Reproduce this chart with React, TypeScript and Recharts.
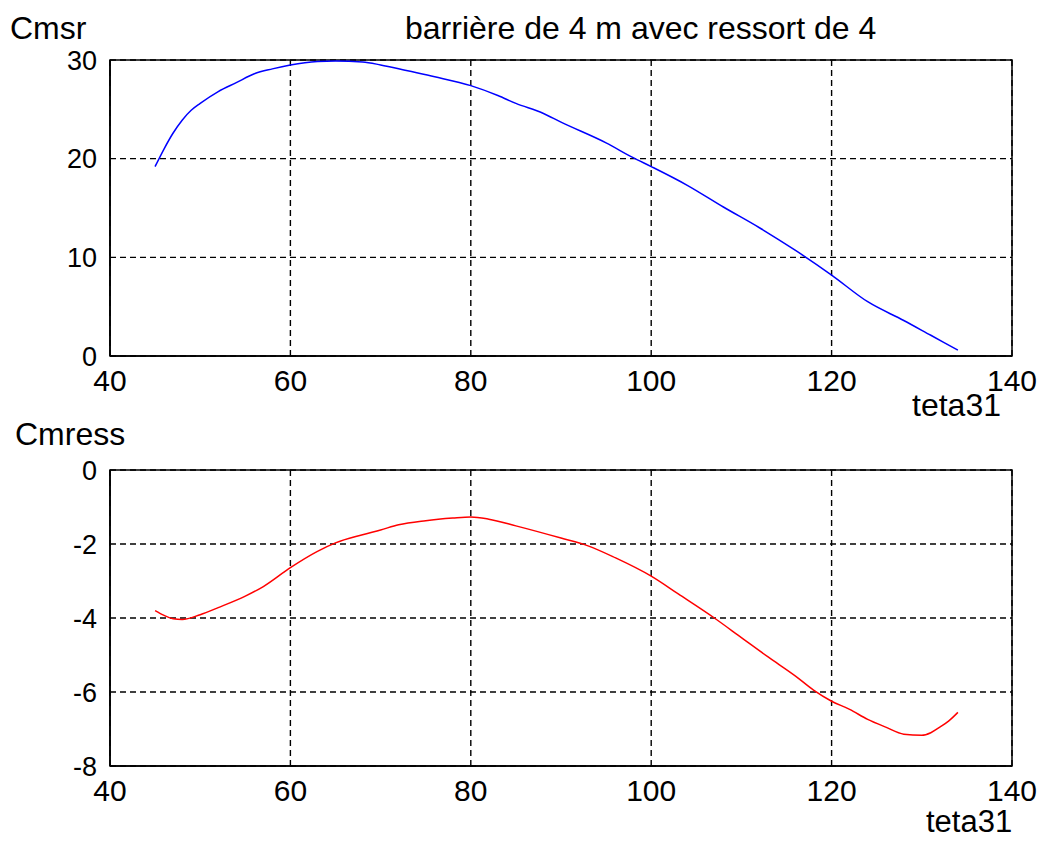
import { LineChart, Line, XAxis, YAxis, CartesianGrid, ReferenceArea } from 'recharts'

const tetaTop = [45, 46, 47, 48, 49, 50, 52, 54, 56, 58, 60, 63, 65, 68, 70, 73, 76, 80, 83, 85, 88, 90, 95, 98, 100, 104, 108, 112, 116, 120, 124, 128, 131, 134]
const cmsr = [19.2, 21.0, 22.6, 23.9, 24.9, 25.6, 26.8, 27.7, 28.6, 29.1, 29.5, 29.85, 29.9, 29.8, 29.5, 28.9, 28.3, 27.4, 26.4, 25.6, 24.6, 23.7, 21.6, 20.1, 19.2, 17.3, 15.1, 13.0, 10.7, 8.2, 5.5, 3.6, 2.1, 0.6]

const tetaBottom = [45, 46, 47, 48, 50, 52, 55, 57, 60, 63, 65, 68, 70, 72, 75, 78, 80, 82, 85, 90, 93, 96, 100, 103, 107, 110, 113, 116, 118, 120, 122, 124, 126, 128, 130, 131, 132, 133, 134]
const cmress = [-3.8, -3.93, -4.02, -4.04, -3.91, -3.72, -3.41, -3.15, -2.64, -2.2, -1.97, -1.75, -1.62, -1.48, -1.37, -1.3, -1.27, -1.33, -1.51, -1.84, -2.05, -2.37, -2.87, -3.35, -4.0, -4.53, -5.06, -5.57, -5.95, -6.25, -6.47, -6.74, -6.95, -7.14, -7.17, -7.1, -6.95, -6.78, -6.55]

const xTicks = [40, 60, 80, 100, 120, 140]
const yTicksTop = [0, 10, 20, 30]
const yTicksBottom = [-8, -6, -4, -2, 0]

const title = 'barrière de 4 m avec ressort de 4'

const topData = tetaTop.map((t, i) => ({ teta: t, v: cmsr[i] }))
const bottomData = tetaBottom.map((t, i) => ({ teta: t, v: cmress[i] }))

const font = '"Liberation Sans", Arial, sans-serif'
const txt = (left: number, top: number, size: number): React.CSSProperties => ({
  position: 'absolute', left, top, fontSize: size, fontFamily: font, color: '#000', whiteSpace: 'nowrap', lineHeight: 1,
})

const Panel = ({ data, ticks, domain, color, height }: { data: { teta: number; v: number }[]; ticks: number[]; domain: [number, number]; color: string; height: number }) => (
  <LineChart width={1043} height={height} data={data} margin={{ top: 60, right: 31, left: 50, bottom: height - 356 - 40 }}>
    <CartesianGrid stroke="#000" strokeDasharray="6 4" strokeWidth={1.4} />
    <XAxis dataKey="teta" type="number" domain={[40, 140]} ticks={xTicks} height={40} axisLine={{ stroke: '#000', strokeWidth: 1.5 }} tickLine={false} tickSize={6} tickMargin={8} tick={{ fill: '#000', fontSize: 30, fontFamily: font }} interval={0} />
    <YAxis type="number" domain={domain} ticks={ticks} width={60} axisLine={{ stroke: '#000', strokeWidth: 1.5 }} tickLine={false} tickSize={6} tickMargin={7} tick={{ fill: '#000', fontSize: 27, fontFamily: font }} interval={0} />
    <ReferenceArea x1={40} x2={140} y1={domain[0]} y2={domain[1]} fill="none" stroke="#000" strokeWidth={1.5} />
    <Line type="monotone" dataKey="v" stroke={color} strokeWidth={1.5} dot={false} isAnimationActive={false} />
  </LineChart>
)

export default function App() {
  return (
    <div style={{ position: 'absolute', left: 0, top: 0, width: 1043, height: 843, background: '#fff' }}>
      <div style={{ position: 'absolute', left: 0, top: 0 }}>
        <Panel data={topData} ticks={yTicksTop} domain={[0, 30]} color="#0000ff" height={420} />
      </div>
      <div style={{ position: 'absolute', left: 0, top: 410 }}>
        <Panel data={bottomData} ticks={yTicksBottom} domain={[-8, 0]} color="#ff0000" height={433} />
      </div>
      <div style={txt(10, 12, 32)}>Cmsr</div>
      <div style={txt(405, 12, 32)}>{title}</div>
      <div style={txt(912, 389, 32)}>teta31</div>
      <div style={txt(15, 418, 32)}>Cmress</div>
      <div style={txt(926, 806, 31)}>teta31</div>
    </div>
  )
}
